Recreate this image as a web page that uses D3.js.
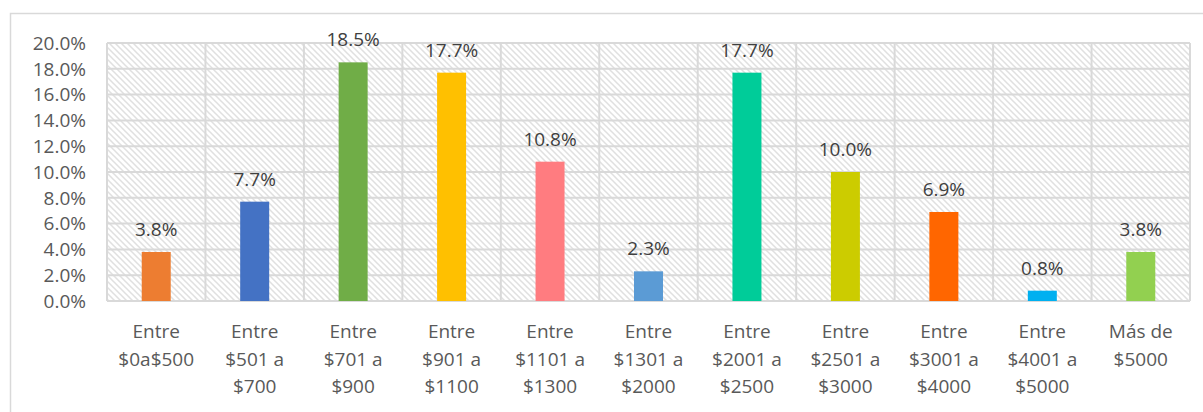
<!DOCTYPE html>
<head>
    <script src="https://d3js.org/d3.v7.min.js"></script>
    <style>
body {
  margin: 0;
  background: #fff;
  font-family: "Open Sans", sans-serif;
}
</style>
</head>
<body>
    <svg></svg>
</body>

<script>
    // data
    var categories = ["Entre\n$0a$500", "Entre\n$501 a\n$700", "Entre\n$701 a\n$900", "Entre\n$901 a\n$1100",
        "Entre\n$1101 a\n$1300", "Entre\n$1301 a\n$2000", "Entre\n$2001 a\n$2500", "Entre\n$2501 a\n$3000",
        "Entre\n$3001 a\n$4000", "Entre\n$4001 a\n$5000", "Más de\n$5000"];
    var values = [3.8, 7.7, 18.5, 17.7, 10.8, 2.3, 17.7, 10.0, 6.9, 0.8, 3.8];
    var barColors = ["#ED7D31", "#4472C4", "#70AD47", "#FFC000", "#FF7C80", "#5B9BD5",
        "#00CC99", "#CCCC00", "#FF6600", "#00B0F0", "#92D050"];
    var yTicks = [0, 2, 4, 6, 8, 10, 12, 14, 16, 18, 20];

    var width = 1203;
    var height = 412;
    var margin = {top: 43, right: 13, bottom: 111, left: 107};

    var svg = d3.select('svg')
        .attr('width', width)
        .attr('height', height);

    // hatch pattern for plot background
    var pat = svg.append('defs').append('pattern')
        .attr('id', 'hatch')
        .attr('patternUnits', 'userSpaceOnUse')
        .attr('width', 6)
        .attr('height', 6);
    pat.append('rect').attr('width', 6).attr('height', 6).attr('fill', '#fff');
    pat.append('path')
        .attr('d', 'M-1,-1 L7,7 M-7,-1 L1,7 M5,-1 L13,7')
        .attr('stroke', '#e0e0e0')
        .attr('stroke-width', 1.5);

    // chart outer border
    svg.append('rect')
        .attr('x', 10.5).attr('y', 13.5)
        .attr('width', 1210).attr('height', 420)
        .attr('fill', 'none')
        .attr('stroke', '#d9d9d9')
        .attr('stroke-width', 1.5);

    var x = d3.scaleBand()
        .domain(d3.range(categories.length))
        .range([margin.left, width - margin.right]);

    var y = d3.scaleLinear()
        .domain([0, 20])
        .range([height - margin.bottom, margin.top]);

    var g = svg.append('g');

    g.append('rect')
        .attr('x', x.range()[0]).attr('y', y(20))
        .attr('width', x.range()[1] - x.range()[0])
        .attr('height', y(0) - y(20))
        .attr('fill', 'url(#hatch)');

    // grid lines
    g.selectAll('.hgrid')
        .data(yTicks)
        .enter().append('line')
        .attr('class', 'hgrid')
        .attr('x1', x.range()[0]).attr('x2', x.range()[1])
        .attr('y1', function (d) { return y(d); })
        .attr('y2', function (d) { return y(d); })
        .attr('stroke', '#d9d9d9')
        .attr('stroke-width', 2);

    g.selectAll('.vgrid')
        .data(d3.range(categories.length + 1))
        .enter().append('line')
        .attr('class', 'vgrid')
        .attr('x1', function (d) { return margin.left + d * x.step(); })
        .attr('x2', function (d) { return margin.left + d * x.step(); })
        .attr('y1', y(20)).attr('y2', y(0))
        .attr('stroke', '#d9d9d9')
        .attr('stroke-width', 2);

    // y axis labels
    g.selectAll('.ytick')
        .data(yTicks)
        .enter().append('text')
        .attr('x', 86)
        .attr('y', function (d) { return y(d); })
        .attr('dy', '0.36em')
        .style('text-anchor', 'end')
        .style('font-size', '19px')
        .style('fill', '#595959')
        .text(function (d) { return d.toFixed(1) + '%'; });

    // bars
    var barW = 29;
    g.selectAll('.bar')
        .data(values)
        .enter().append('rect')
        .attr('class', 'bar')
        .attr('x', function (d, i) { return x(i) + x.bandwidth() / 2 - barW / 2; })
        .attr('y', function (d) { return y(d); })
        .attr('width', barW)
        .attr('height', function (d) { return y(0) - y(d); })
        .attr('fill', function (d, i) { return barColors[i]; });

    // value labels
    g.selectAll('.val')
        .data(values)
        .enter().append('text')
        .attr('x', function (d, i) { return x(i) + x.bandwidth() / 2; })
        .attr('y', function (d) { return y(d) - 16; })
        .style('text-anchor', 'middle')
        .style('font-size', '19px')
        .style('fill', '#404040')
        .text(function (d) { return d.toFixed(1) + '%'; });

    // category labels
    var cat = g.selectAll('.cat')
        .data(categories)
        .enter().append('text')
        .attr('class', 'cat')
        .style('text-anchor', 'middle')
        .style('font-size', '19px')
        .style('fill', '#595959');

    cat.selectAll('tspan')
        .data(function (d, i) { return d.split('\n').map(function (s) { return {s: s, i: i}; }); })
        .enter().append('tspan')
        .attr('x', function (d) { return x(d.i) + x.bandwidth() / 2; })
        .attr('y', function (d, j) { return 338 + j * 27.5; })
        .text(function (d) { return d.s; });
</script>
